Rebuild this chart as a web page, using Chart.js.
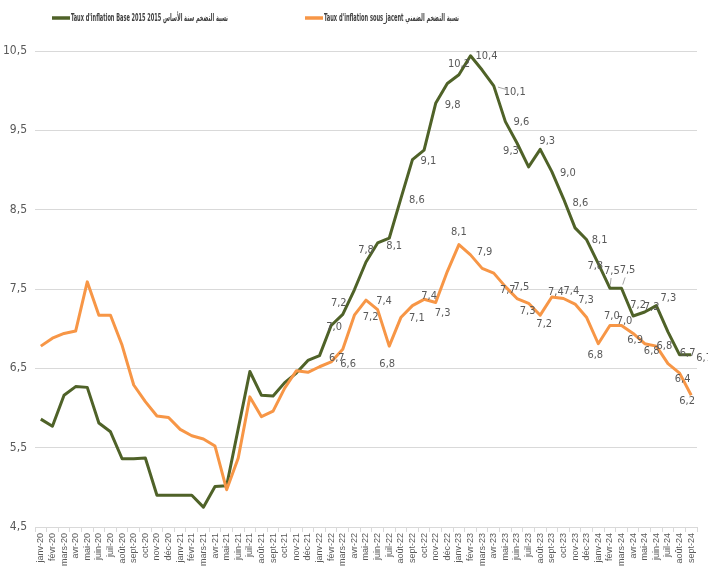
<!DOCTYPE html>
<html>
<head>
<meta charset="UTF-8">
<title>Taux d'inflation</title>
<script src="https://cdn.jsdelivr.net/npm/chart.js@4.4.1/dist/chart.umd.min.js"></script>
<style>
  html, body { margin: 0; padding: 0; background: #fff; }
  #holder { width: 708px; height: 568px; }
</style>
</head>
<body>
<div id="holder"><canvas id="chart-area"></canvas></div>
<script>
var mois = [
  'janv-20', 'févr-20', 'mars-20', 'avr-20', 'mai-20', 'juin-20', 'juil-20', 'août-20', 'sept-20', 'oct-20', 'nov-20', 'déc-20',
  'janv-21', 'févr-21', 'mars-21', 'avr-21', 'mai-21', 'juin-21', 'juil-21', 'août-21', 'sept-21', 'oct-21', 'nov-21', 'déc-21',
  'janv-22', 'févr-22', 'mars-22', 'avr-22', 'mai-22', 'juin-22', 'juil-22', 'août-22', 'sept-22', 'oct-22', 'nov-22', 'déc-22',
  'janv-23', 'févr-23', 'mars-23', 'avr-23', 'mai-23', 'juin-23', 'juil-23', 'août-23', 'sept-23', 'oct-23', 'nov-23', 'déc-23',
  'janv-24', 'févr-24', 'mars-24', 'avr-24', 'mai-24', 'juin-24', 'juil-24', 'août-24', 'sept-24'
];

var tauxBase = [
  5.86, 5.77, 6.16, 6.27, 6.26, 5.81, 5.70, 5.36, 5.36, 5.37, 4.90, 4.90,
  4.90, 4.90, 4.75, 5.01, 5.02, 5.74, 6.46, 6.16, 6.15, 6.32, 6.44, 6.60,
  6.66, 7.04, 7.18, 7.49, 7.84, 8.08, 8.14, 8.64, 9.13, 9.25, 9.84, 10.09,
  10.20, 10.44, 10.26, 10.06, 9.61, 9.34, 9.04, 9.26, 8.98, 8.64, 8.27, 8.12,
  7.82, 7.51, 7.51, 7.16, 7.21, 7.29, 6.96, 6.67, 6.67
];

var tauxSousJacent = [
  6.78, 6.88, 6.94, 6.97, 7.59, 7.17, 7.17, 6.79, 6.29, 6.08, 5.90, 5.88,
  5.73, 5.65, 5.61, 5.52, 4.97, 5.37, 6.14, 5.89, 5.96, 6.25, 6.47, 6.45,
  6.52, 6.58, 6.74, 7.17, 7.36, 7.24, 6.78, 7.14, 7.29, 7.37, 7.33, 7.72,
  8.06, 7.93, 7.76, 7.70, 7.53, 7.38, 7.32, 7.17, 7.40, 7.38, 7.31, 7.14,
  6.81, 7.04, 7.04, 6.94, 6.81, 6.78, 6.56, 6.44, 6.16
];

var nomBase = "Taux d'inflation Base 2015 2015 نسبة التضخم سنة الأساس";
var nomSousJacent = "Taux d'inflation sous_jacent نسبة التضخم الضمني";

var vert = '#4f6228';
var orange = '#f79646';
var gris = '#595959';
var police = "'Liberation Sans Narrow', 'DejaVu Sans Condensed', sans-serif";

// mois étiquetés -> décalage du texte [dx, dy] (et trait de rappel)
var posEtiqBase = {
  25: [3, 2], 26: [-4, -11], 28: [0, -12], 30: [5, 8], 31: [16, 2], 32: [16, 1],
  34: [17, 2], 36: [0, -11], 37: [16, 0], 39: [21, 6, 1], 40: [16, 1], 41: [-6, 8],
  43: [7, -8], 44: [16, 2], 45: [17, 5], 47: [13, 0], 48: [-3, 3], 49: [2, -17, 1],
  50: [6, -18, 1], 51: [5, -11], 52: [7, -5], 53: [12, -8], 55: [8, -2], 56: [13, 3]
};
var posEtiqSousJacent = {
  25: [17, 2], 26: [-6, 9], 28: [18, 1], 29: [-7, 8], 30: [-2, 18], 31: [16, 1],
  33: [5, -3], 34: [7, 11], 36: [0, -12], 37: [14, -3], 39: [14, 17], 40: [16, 1],
  42: [-1, 8], 43: [4, 9], 44: [4, -5], 45: [8, -7], 46: [11, -4], 48: [-3, 11],
  49: [2, -9], 50: [3, -4], 51: [2, 7], 52: [7, 7], 53: [8, 0], 55: [3, 6], 56: [-4, 6]
};

function virgule(v) {
  return (Math.round(v * 10) / 10).toFixed(1).replace('.', ',');
}

var etiquettes = {
  id: 'etiquettes',
  afterDatasetsDraw: function (chart) {
    var ctx = chart.ctx;
    ctx.save();
    ctx.font = '11px ' + police;
    ctx.textAlign = 'center';
    ctx.textBaseline = 'middle';
    [posEtiqBase, posEtiqSousJacent].forEach(function (pos, d) {
      var meta = chart.getDatasetMeta(d);
      var data = chart.data.datasets[d].data;
      Object.keys(pos).forEach(function (k) {
        var pt = meta.data[k];
        var p = pos[k];
        if (p[2]) {
          ctx.strokeStyle = '#a6a6a6';
          ctx.lineWidth = 1;
          ctx.beginPath();
          ctx.moveTo(pt.x + p[0] * 0.2, pt.y + p[1] * 0.2);
          ctx.lineTo(pt.x + p[0] * 0.6, pt.y + p[1] * 0.6);
          ctx.stroke();
        }
        ctx.fillStyle = gris;
        ctx.fillText(virgule(data[k]), pt.x + p[0], pt.y + p[1]);
      });
    });
    ctx.restore();
  }
};

// légende placée comme dans l'original (texte resserré, police étroite d'Excel)
var legende = {
  id: 'legende',
  afterDraw: function (chart) {
    var ctx = chart.ctx;
    var items = [[vert, nomBase, 52, 157], [orange, nomSousJacent, 305, 135]];
    ctx.save();
    ctx.font = 'bold 10px ' + police;
    ctx.textBaseline = 'middle';
    ctx.textAlign = 'left';
    items.forEach(function (it) {
      ctx.strokeStyle = it[0];
      ctx.lineWidth = 3.5;
      ctx.beginPath();
      ctx.moveTo(it[2], 18);
      ctx.lineTo(it[2] + 18, 18);
      ctx.stroke();
      var w = ctx.measureText(it[1]).width;
      var sx = Math.min(1, it[3] / w);
      ctx.save();
      ctx.translate(it[2] + 19, 18);
      ctx.scale(sx, 1);
      ctx.fillStyle = '#404040';
      ctx.fillText(it[1], 0, 0);
      ctx.restore();
    });
    ctx.restore();
  }
};

var config = {
  type: 'line',
  data: {
    labels: mois,
    datasets: [{
      label: nomBase,
      data: tauxBase,
      borderColor: vert,
      backgroundColor: vert,
      borderWidth: 3,
      pointRadius: 0,
      tension: 0,
      borderJoinStyle: 'round',
      order: 1
    }, {
      label: nomSousJacent,
      data: tauxSousJacent,
      borderColor: orange,
      backgroundColor: orange,
      borderWidth: 3,
      pointRadius: 0,
      tension: 0,
      borderJoinStyle: 'round',
      order: 0
    }]
  },
  options: {
    responsive: true,
    maintainAspectRatio: false,
    animation: false,
    layout: { padding: { top: 51, right: 11, left: 0, bottom: 0 } },
    plugins: {
      legend: { display: false },
      tooltip: { enabled: false }
    },
    scales: {
      x: {
        offset: true,
        grid: { offset: true, drawOnChartArea: false, tickLength: 5, color: '#d9d9d9' },
        border: { color: '#d9d9d9' },
        ticks: {
          autoSkip: false, minRotation: 90, maxRotation: 90, padding: 1,
          color: gris, font: { size: 9, family: "'Liberation Sans', sans-serif" }
        },
        afterFit: function (s) { s.height = 41; }
      },
      y: {
        min: 4.5,
        max: 10.5,
        ticks: {
          stepSize: 1, padding: 8, color: gris,
          font: { size: 12, family: police },
          callback: function (v) { return virgule(v); }
        },
        grid: { color: '#d9d9d9', drawTicks: false },
        border: { display: false },
        afterFit: function (s) { s.width = 35; }
      }
    }
  },
  plugins: [etiquettes, legende]
};

window.onload = function () {
  var ctx = document.getElementById('chart-area').getContext('2d');
  window.myLine = new Chart(ctx, config);
};
</script>
</body>
</html>
